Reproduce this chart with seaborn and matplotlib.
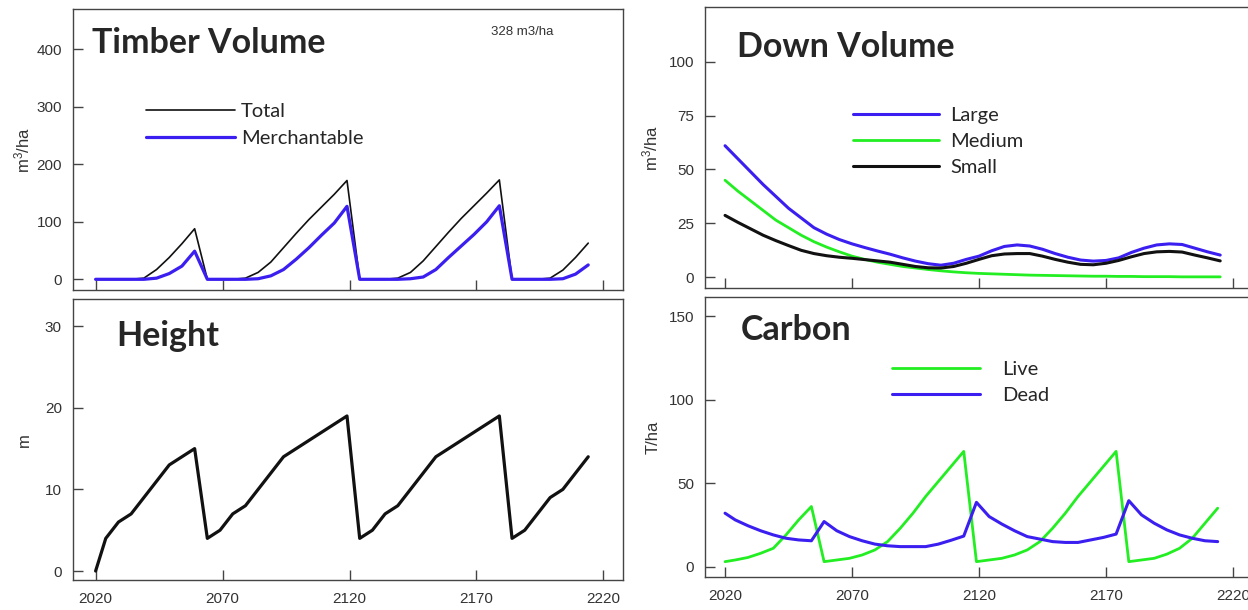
import numpy as np
import pandas as pd
import matplotlib
matplotlib.use('Agg')
import matplotlib.pyplot as plt
import seaborn as sns

# time steps shared by timber, height and carbon series
years = [2020] + list(range(2024, 2215, 5))

timber_total = [0, 0, 0, 0, 2, 17, 38, 62, 88,
                0, 0, 0, 2, 12, 30, 55, 80, 104, 126, 148, 172,
                0, 0, 0, 2, 12, 32, 57, 82, 106, 128, 150, 173,
                0, 0, 0, 2, 16, 38, 63]
timber_merch = [0, 0, 0, 0, 0, 2, 10, 23, 49,
                0, 0, 0, 0, 1, 6, 17, 35, 55, 77, 98, 127,
                0, 0, 0, 0, 1, 4, 17, 38, 58, 78, 100, 128,
                0, 0, 0, 0, 1, 9, 25]

height = [0, 4, 6, 7, 9, 11, 13, 14, 15,
          4, 5, 7, 8, 10, 12, 14, 15, 16, 17, 18, 19,
          4, 5, 7, 8, 10, 12, 14, 15, 16, 17, 18, 19,
          4, 5, 7, 9, 10, 12, 14]

carbon_live = [3, 4, 5.5, 8, 11, 19, 28, 36,
               3, 4, 5, 7, 10, 15, 23, 32, 42, 51, 60, 69,
               3, 4, 5, 7, 10, 15, 23, 32, 42, 51, 60, 69,
               3, 4, 5, 7.5, 11, 17, 26, 35]
carbon_dead = [32, 28, 24.5, 21.5, 19, 17, 16, 15.5,
               27, 21.5, 18, 15.5, 13.5, 12.5, 12, 12, 12, 13.5, 15.8, 18.3,
               38.5, 30, 25.5, 21.5, 18, 16.5, 15, 14.5, 14.5, 16, 17.5, 19.5,
               39.5, 31, 26, 22, 19, 17, 15.5, 15]

# down woody volume, 5-year steps
down_years = list(range(2020, 2216, 5))
down_large = [61, 55, 49, 43, 37.5, 32, 27.5, 23, 20, 17.5, 15.5, 13.8, 12.2, 10.7,
              9, 7.5, 6.3, 5.6, 6.5, 8.3, 9.8, 12.3, 14.3, 15, 14.5, 13, 11, 9.3,
              8, 7.5, 7.8, 9, 11.5, 13.5, 15, 15.5, 15.2, 13.5, 11.8, 10.3]
down_medium = [45, 40, 35.5, 31, 26.5, 23, 19.5, 16.5, 14, 11.8, 9.8, 8.3, 7, 6,
               5, 4.3, 3.6, 3, 2.5, 2.1, 1.8, 1.6, 1.4, 1.2, 1.0, 0.9, 0.8, 0.7,
               0.6, 0.5, 0.5, 0.4, 0.4, 0.3, 0.3, 0.3, 0.2, 0.2, 0.2, 0.2]
down_small = [28.7, 25.5, 22.5, 19.5, 17, 14.7, 12.5, 11, 10, 9.3, 8.8, 8.2, 7.6, 7,
              6, 5, 4.4, 4.3, 5, 6.5, 8.3, 10, 10.8, 11, 11, 9.8, 8.3, 7,
              6, 5.8, 6.5, 7.8, 9.5, 11, 11.8, 12, 11.7, 10.3, 9, 7.6]

x_ticks = [2020, 2070, 2120, 2170, 2220]

BLUE = '#3b1ff0'
GREEN = '#22ee22'
GREY = '#333333'

sns.set_style('ticks')
plt.rcParams['font.family'] = ['Liberation Sans', 'DejaVu Sans']
plt.rcParams['axes.edgecolor'] = '#444444'
plt.rcParams['axes.linewidth'] = 1.0

df = pd.DataFrame({'year': years, 'total': timber_total, 'merch': timber_merch,
                   'height': height, 'live': carbon_live, 'dead': carbon_dead})
dv = pd.DataFrame({'year': down_years, 'large': down_large,
                   'medium': down_medium, 'small': down_small})

fig = plt.figure(figsize=(12.48, 6.10), dpi=100)
ax_tv = fig.add_axes([0.0585, 0.5246, 0.4403, 0.4602])
ax_ht = fig.add_axes([0.0585, 0.0492, 0.4403, 0.4602])
ax_dv = fig.add_axes([0.5649, 0.5274, 0.4403, 0.4607])
ax_cb = fig.add_axes([0.5649, 0.0546, 0.4403, 0.4580])

sns.lineplot(data=df, x='year', y='total', ax=ax_tv, color='#111111', lw=1.2, label='Total')
sns.lineplot(data=df, x='year', y='merch', ax=ax_tv, color=BLUE, lw=2.3, label='Merchantable')
sns.lineplot(data=df, x='year', y='height', ax=ax_ht, color='#111111', lw=2.3)
sns.lineplot(data=dv, x='year', y='large', ax=ax_dv, color=BLUE, lw=2.2, label='Large')
sns.lineplot(data=dv, x='year', y='medium', ax=ax_dv, color=GREEN, lw=2.0, label='Medium')
sns.lineplot(data=dv, x='year', y='small', ax=ax_dv, color='#111111', lw=2.2, label='Small')
sns.lineplot(data=df, x='year', y='live', ax=ax_cb, color=GREEN, lw=2.0, label='Live')
sns.lineplot(data=df, x='year', y='dead', ax=ax_cb, color=BLUE, lw=2.2, label='Dead')

setup = [
    (ax_tv, (2011.1, 2227.5), (-18.6, 470), [0, 100, 200, 300, 400], r'$\mathregular{m^3/ha}$', -0.074, False),
    (ax_ht, (2011.1, 2227.5), (-1.1, 33.3), [0, 10, 20, 30], 'm', -0.074, True),
    (ax_dv, (2012.1, 2228.5), (-5.1, 125.2), [0, 25, 50, 75, 100], r'$\mathregular{m^3/ha}$', -0.081, False),
    (ax_cb, (2012.1, 2228.5), (-6, 161.2), [0, 50, 100, 150], 'T/ha', -0.081, True),
]
for ax, xl, yl, yt, ylab, lx, show_x in setup:
    ax.set_xlim(*xl)
    ax.set_ylim(*yl)
    ax.set_xticks(x_ticks)
    ax.set_yticks(yt)
    ax.tick_params(direction='in', length=7, width=1, colors='#444444',
                   labelcolor=GREY, labelsize=11)
    ax.tick_params(axis='x', pad=9, labelbottom=show_x)
    ax.tick_params(axis='y', pad=8)
    ax.set_xlabel('')
    ax.set_ylabel(ylab, fontsize=12, color=GREY)
    ax.yaxis.set_label_coords(lx, 0.5)
    for s in ax.spines.values():
        s.set_visible(True)

title_kw = dict(fontsize=24.5, fontweight='bold', family='Lato', va='baseline', ha='left')
ax_tv.text(0.035, 0.843, 'Timber Volume', transform=ax_tv.transAxes, **title_kw)
ax_ht.text(0.079, 0.834, 'Height', transform=ax_ht.transAxes, **title_kw)
ax_dv.text(0.0575, 0.823, 'Down Volume', transform=ax_dv.transAxes, **title_kw)
ax_cb.text(0.0645, 0.847, 'Carbon', transform=ax_cb.transAxes, **title_kw)
ax_tv.text(0.761, 0.919, '328 m3/ha', transform=ax_tv.transAxes, fontsize=9.5,
           color=GREY, va='center', ha='left')

leg_kw = dict(loc='upper left', frameon=False, borderpad=0, borderaxespad=0,
              prop={'family': 'Lato', 'size': 14.5}, labelspacing=0.45)
ax_tv.legend(bbox_to_anchor=(0.133, 0.665), handlelength=4.4, handletextpad=0.3, **leg_kw)
ax_dv.legend(bbox_to_anchor=(0.269, 0.645), handlelength=4.3, handletextpad=0.55, **leg_kw)
ax_cb.legend(bbox_to_anchor=(0.34, 0.772), handlelength=4.4, handletextpad=1.1, **leg_kw)

fig.savefig('out.png', dpi=100)
